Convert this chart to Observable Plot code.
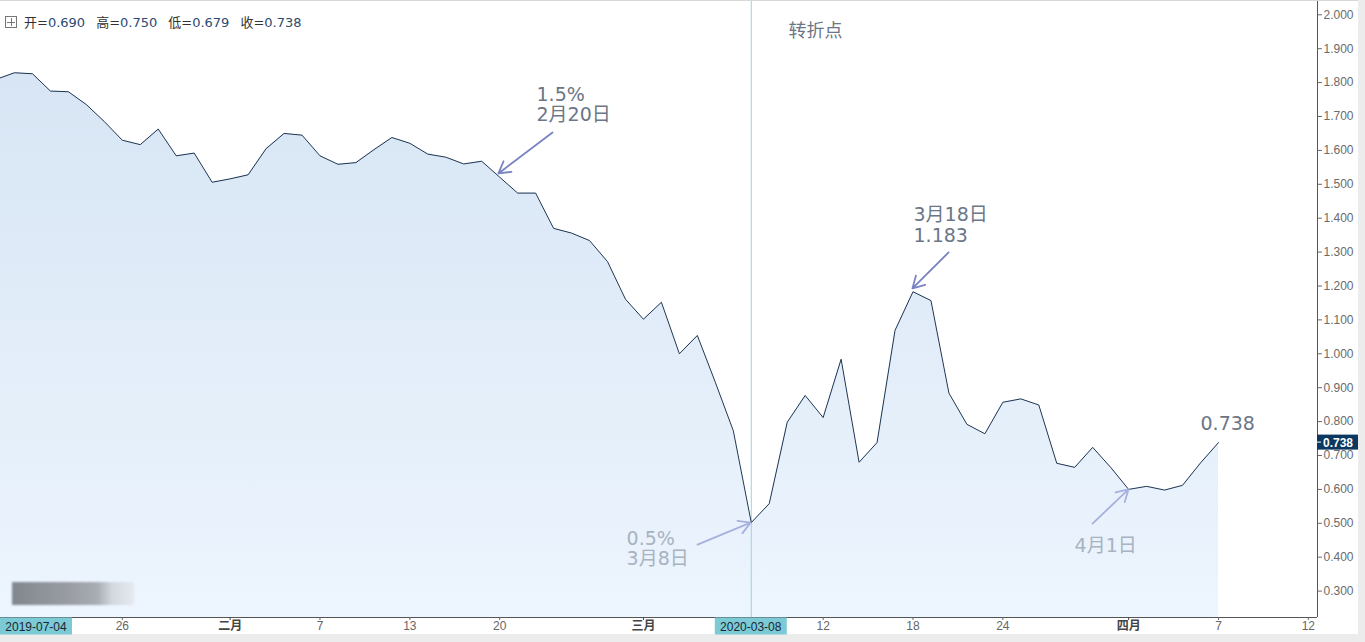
<!DOCTYPE html>
<html>
<head>
<meta charset="utf-8">
<script src="https://cdn.jsdelivr.net/npm/d3@7"></script>
<script src="https://cdn.jsdelivr.net/npm/@observablehq/plot@0.6"></script>
<style>
  html, body { margin: 0; padding: 0; background: #ffffff; overflow: hidden; }
  #wrap { position: relative; width: 1365px; height: 642px; background: #ececec; }
  #chart { position: absolute; left: 0; top: 0; width: 1358px; height: 634px; background: #fff; border-top: 1px solid #d8d8d8; box-sizing: border-box; }
  #chart svg { display: block; }
  #header { position: absolute; left: 5px; top: 12px; font: 13px "DejaVu Sans", "Noto Sans CJK SC", sans-serif; color: #333; white-space: nowrap; }
  #header .v { color: #2c4b70; margin-right: 11px; }
  #header .ic { display: inline-block; width: 10px; height: 10px; border: 1px solid #777; position: relative; margin-right: 7px; vertical-align: -1px; }
  #header .ic:before { content: ""; position: absolute; left: 1px; right: 1px; top: 4.5px; height: 1px; background: #777; }
  #header .ic:after { content: ""; position: absolute; top: 1px; bottom: 1px; left: 4.5px; width: 1px; background: #777; }
  #mark { position: absolute; left: 12px; top: 582px; width: 122px; height: 23px; filter: blur(1.2px);
          background: linear-gradient(to right, #70747b 0%, #8a8d93 45%, #9da1a7 70%, #cfd4da 82%, #e4e9ef 100%); opacity: .85; }
</style>
</head>
<body>
<div id="wrap">
  <div id="chart"></div>
  <div id="header"></div>
  <div id="mark"></div>
</div>
<script>
// ---- data ----
const pointIndex = d3.range(-1, 68);           // consecutive data points (index along x)
const closeValues = [
  1.810, 1.829, 1.826, 1.775, 1.773, 1.735, 1.685, 1.630, 1.617, 1.663,
  1.584, 1.592, 1.506, 1.516, 1.528, 1.605, 1.650, 1.645, 1.584, 1.559,
  1.564, 1.602, 1.638, 1.621, 1.589, 1.580, 1.560, 1.568, 1.521, 1.474,
  1.474, 1.370, 1.356, 1.334, 1.272, 1.161, 1.102, 1.152, 1.000, 1.054,
  0.916, 0.773, 0.502, 0.558, 0.798, 0.877, 0.812, 0.984, 0.680, 0.738,
  1.069, 1.183, 1.157, 0.884, 0.792, 0.764, 0.857, 0.867, 0.849, 0.677,
  0.665, 0.724, 0.665, 0.600, 0.609, 0.598, 0.612, 0.678, 0.738
];
const xTickIndex  = [6, 12, 17, 22, 27, 35, 45, 50, 55, 62, 67, 72];
const xTickLabels = ["26", "二月", "7", "13", "20", "三月", "12", "18", "24", "四月", "7", "12"];
const monthLabels = ["二月", "三月", "四月"];
const yTicks = [0.3, 0.4, 0.5, 0.6, 0.7, 0.8, 0.9, 1.0, 1.1, 1.2, 1.3, 1.4, 1.5, 1.6, 1.7, 1.8, 1.9, 2.0];
const ohlcNames  = ["开", "高", "低", "收"];
const ohlcValues = [0.690, 0.750, 0.679, 0.738];
const turnIndex = 41;
const turnDate = "2020-03-08";
const cursorDate = "2019-07-04";
const lastValue = 0.738;
const turnText = "转折点";
const noteFeb20 = "1.5%\n2月20日";
const noteMar8  = "0.5%\n3月8日";
const noteMar18 = "3月18日\n1.183";
const noteApr1  = "4月1日";
const noteLast  = "0.738";

const data = pointIndex.map((k, i) => ({k, v: closeValues[i]}));
const xDomain = [-0.779, 72.51];
const yDomain = [0.2221, 2.0392];
const labelOf = new Map(xTickIndex.map((k, i) => [k, xTickLabels[i]]));
const normalTicks = xTickIndex.filter(k => !monthLabels.includes(labelOf.get(k)));
const monthTicks  = xTickIndex.filter(k => monthLabels.includes(labelOf.get(k)));

const annoFont = "DejaVu Sans, 'Noto Sans CJK SC', sans-serif";
const dark = "#6b7686", light = "#a7b2c2", arrowDark = "#7883c4", arrowLight = "#a6b1de";

const chart = Plot.plot({
  width: 1358, height: 633,
  marginLeft: 0, marginRight: 41, marginTop: 0, marginBottom: 17,
  x: {type: "linear", domain: xDomain, label: null},
  y: {domain: yDomain, label: null},
  style: {fontFamily: "'Liberation Sans', Arial, sans-serif", background: "transparent", overflow: "visible"},
  marks: [
    Plot.areaY(data, {x: "k", y1: yDomain[0], y2: "v", fill: "url(#areaGrad)", clip: true}),
    Plot.ruleX([turnIndex], {stroke: "#9fd0e2", strokeWidth: 1}),
    Plot.lineY(data, {x: "k", y: "v", stroke: "#1e3552", strokeWidth: 1, clip: true}),
    Plot.ruleY([yDomain[0]], {stroke: "#555"}),
    Plot.ruleX([xDomain[1]], {stroke: "#555"}),
    Plot.axisY({anchor: "right", label: null, ticks: yTicks, tickFormat: d3.format(".3f"), tickSize: 4, tickPadding: 2, fontSize: 12, color: "#6a6a6a"}),
    Plot.axisX({label: null, ticks: normalTicks, tickFormat: k => labelOf.get(k), tickSize: 3, tickPadding: 1, fontSize: 12, color: "#666"}),
    Plot.axisX({label: null, ticks: monthTicks, tickFormat: k => labelOf.get(k), tickSize: 3, tickPadding: 1, fontSize: 12, fontWeight: "bold", color: "#444", fontFamily: "'Noto Sans CJK SC', sans-serif"}),
    // annotations
    Plot.text([turnText], {x: 43.07, y: 1.951, text: d => d, textAnchor: "start", fontSize: 18, fill: dark, fontFamily: annoFont}),
    Plot.text([noteFeb20], {x: 29.05, y: 1.735, text: d => d, textAnchor: "start", fontSize: 19, lineHeight: 1.05, fill: dark, fontFamily: annoFont}),
    Plot.arrow([0], {x1: 29.94, y1: 1.653, x2: 26.93, y2: 1.532, stroke: arrowDark, strokeWidth: 1.8, headLength: 11}),
    Plot.text([noteMar8], {x: 34.06, y: 0.424, text: d => d, textAnchor: "start", fontSize: 19, lineHeight: 1.05, fill: light, fontFamily: annoFont}),
    Plot.arrow([0], {x1: 38.01, y1: 0.437, x2: 40.96, y2: 0.502, stroke: arrowLight, strokeWidth: 1.8, headLength: 11}),
    Plot.text([noteMar18], {x: 50.03, y: 1.380, text: d => d, textAnchor: "start", fontSize: 19, lineHeight: 1.1, fill: dark, fontFamily: annoFont}),
    Plot.arrow([0], {x1: 51.98, y1: 1.299, x2: 49.97, y2: 1.193, stroke: arrowDark, strokeWidth: 1.8, headLength: 11}),
    Plot.text([noteApr1], {x: 58.99, y: 0.432, text: d => d, textAnchor: "start", fontSize: 19, fill: light, fontFamily: annoFont}),
    Plot.arrow([0], {x1: 59.99, y1: 0.499, x2: 61.99, y2: 0.600, stroke: arrowLight, strokeWidth: 1.8, headLength: 11}),
    Plot.text([noteLast], {x: 66.0, y: 0.794, text: d => d, textAnchor: "start", fontSize: 19, fill: dark, fontFamily: annoFont})
  ]
});

document.getElementById("chart").appendChild(chart);

// gradient + boxed labels placed through the plot's own scales
const sx = chart.scale("x"), sy = chart.scale("y");
const svg = d3.select(chart);
const grad = svg.insert("defs", ":first-child").append("linearGradient")
  .attr("id", "areaGrad").attr("x1", 0).attr("y1", 0).attr("x2", 0).attr("y2", 1);
grad.append("stop").attr("offset", "0%").attr("stop-color", "#d7e5f4");
grad.append("stop").attr("offset", "100%").attr("stop-color", "#edf5fe");

const axisY = sy.apply(yDomain[0]);
function dateBox(cx, label, anchorLeft) {
  const w = 72, h = 17;
  const x0 = anchorLeft ? cx : cx - w / 2;
  svg.append("rect").attr("x", x0).attr("y", axisY + 0.5).attr("width", w).attr("height", h).attr("fill", "#7ccad5");
  svg.append("text").attr("x", x0 + w / 2).attr("y", axisY + 13.5).attr("text-anchor", "middle")
    .attr("font-size", 12).attr("fill", "#1b2633").attr("font-family", "'Liberation Sans', Arial, sans-serif").text(label);
}
dateBox(sx.apply(turnIndex), turnDate, false);
dateBox(sx.apply(xDomain[0]), cursorDate, true);

const xr = sx.apply(xDomain[1]);
const py = sy.apply(lastValue);
svg.append("rect").attr("x", xr).attr("y", py - 7.5).attr("width", 41).attr("height", 15).attr("fill", "#0c3760");
svg.append("line").attr("x1", xr).attr("x2", xr + 4).attr("y1", py).attr("y2", py).attr("stroke", "#fff");
svg.append("text").attr("x", xr + 6).attr("y", py + 4.5).attr("text-anchor", "start").attr("font-size", 12).attr("font-weight", "bold")
  .attr("fill", "#fff").attr("font-family", "'Liberation Sans', Arial, sans-serif").text(d3.format(".3f")(lastValue));

// OHLC header
const header = document.getElementById("header");
header.innerHTML = '<span class="ic"></span>' + ohlcNames.map((n, i) => `${n}=<span class="v">${d3.format(".3f")(ohlcValues[i])}</span>`).join("");
</script>
</body>
</html>
